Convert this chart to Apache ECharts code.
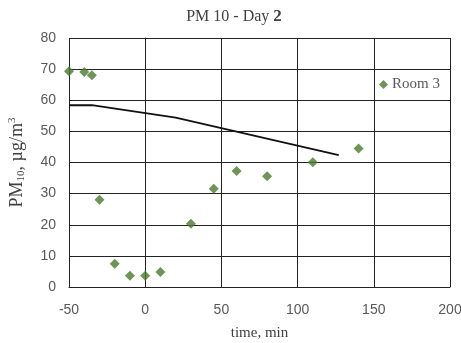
<!DOCTYPE html>
<html>
<head>
<meta charset="utf-8">
<script src="https://cdn.jsdelivr.net/npm/echarts@6/dist/echarts.min.js"></script>
<style>
  html, body { margin: 0; padding: 0; background: #fff; }
  #chart { width: 461px; height: 343px; }
</style>
</head>
<body>
<div id="chart"></div>
<script>
// Room 3 measurements: time (min) and PM10 concentration (µg/m3)
const roomTimes = [-50, -40, -35, -30, -20, -10, 0, 10, 30, 45, 60, 80, 110, 140];
const roomValues = [69.3, 69.1, 68, 28, 7.5, 3.6, 3.6, 4.8, 20.3, 31.6, 37.3, 35.6, 40.1, 44.5];

// Trend line vertices
const trendTimes = [-50, -35, 20, 127];
const trendValues = [58.4, 58.4, 54.4, 42.4];

const xTicks = { min: -50, max: 200, step: 50 };
const yTicks = { min: 0, max: 80, step: 10 };

const serif = '"Liberation Serif", "DejaVu Serif", serif';
const sans = '"Liberation Sans", "DejaVu Sans", sans-serif';
const green = '#4a7a2c';

const chart = echarts.init(document.getElementById('chart'), null, { renderer: 'canvas' });

chart.setOption({
  animation: false,
  backgroundColor: '#fff',
  title: {
    text: '{a|PM 10 - Day }{b|2}',
    left: 229,
    textAlign: 'center',
    top: 3,
    textStyle: {
      fontWeight: 'normal',
      rich: {
        a: { fontFamily: serif, fontSize: 16, fontWeight: 'normal', color: '#404040' },
        b: { fontFamily: serif, fontSize: 17, fontWeight: 'bold', color: '#404040' }
      }
    }
  },
  legend: {
    data: [{ name: 'Room 3', icon: 'diamond' }],
    left: 374,
    top: 72,
    itemWidth: 9,
    itemHeight: 9,
    itemGap: 4,
    textStyle: { fontFamily: serif, fontSize: 15, color: '#595959', padding: [0, 0, 0, -1] }
  },
  grid: { left: 69, right: 11, top: 38, bottom: 56, containLabel: false, outerBoundsMode: 'none' },
  xAxis: {
    type: 'value',
    min: xTicks.min,
    max: xTicks.max,
    interval: xTicks.step,
    name: 'time, min',
    nameLocation: 'middle',
    nameGap: 39,
    nameTextStyle: { fontFamily: serif, fontSize: 15, color: '#404040' },
    axisLine: { show: true, onZero: false, lineStyle: { color: '#222', width: 1 } },
    axisTick: { show: false },
    axisLabel: { fontFamily: sans, fontSize: 14, color: '#595959', margin: 16 },
    splitLine: { show: true, lineStyle: { color: '#222', width: 1 } }
  },
  yAxis: {
    type: 'value',
    min: yTicks.min,
    max: yTicks.max,
    interval: yTicks.step,
    name: '{m|PM}{s|10}{m|, µg/m}{p|3}',
    nameLocation: 'middle',
    nameGap: 42,
    nameRotate: 90,
    nameTextStyle: {
      rich: {
        m: { fontFamily: serif, fontSize: 18, color: '#404040', lineHeight: 20, verticalAlign: 'middle' },
        s: { fontFamily: serif, fontSize: 11, color: '#404040', lineHeight: 11, verticalAlign: 'bottom' },
        p: { fontFamily: serif, fontSize: 11, color: '#404040', lineHeight: 11, verticalAlign: 'top' }
      }
    },
    axisLine: { show: true, lineStyle: { color: '#222', width: 1 } },
    axisTick: { show: false },
    axisLabel: { fontFamily: sans, fontSize: 14, color: '#595959', margin: 13 },
    splitLine: { show: true, lineStyle: { color: '#222', width: 1 } }
  },
  series: [
    {
      name: 'Trend',
      type: 'line',
      data: trendTimes.map((t, i) => [t, trendValues[i]]),
      symbol: 'none',
      lineStyle: { color: '#111', width: 1.8 },
      silent: true,
      z: 3
    },
    {
      name: 'Room 3',
      type: 'scatter',
      data: roomTimes.map((t, i) => [t, roomValues[i]]),
      symbol: 'diamond',
      symbolSize: 10,
      itemStyle: { color: green },
      z: 4
    }
  ]
});
</script>
</body>
</html>
